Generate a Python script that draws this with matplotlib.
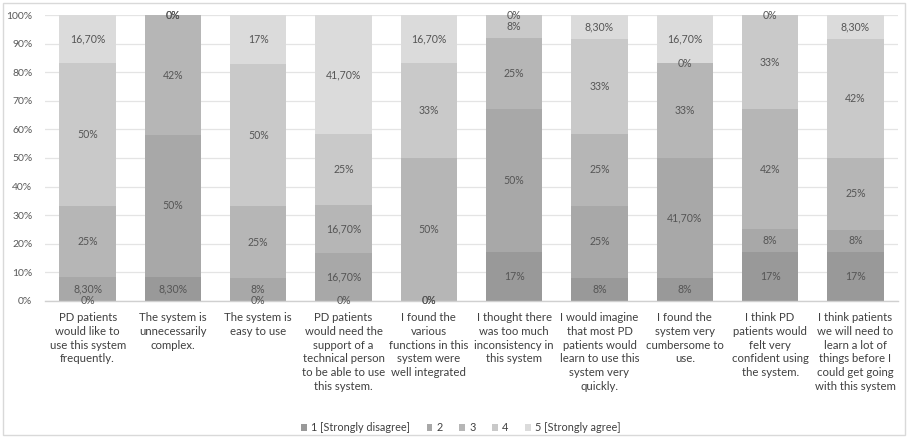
import numpy as np
import matplotlib
matplotlib.use('Agg')
from matplotlib import pyplot as plt
from matplotlib.patches import Rectangle

plt.rcParams['font.family'] = ['Lato', 'DejaVu Sans']

questions = [
    "PD patients\nwould like to\nuse this system\nfrequently.",
    "The system is\nunnecessarily\ncomplex.",
    "The system is\neasy to use",
    "PD patients\nwould need the\nsupport of a\ntechnical person\nto be able to use\nthis system.",
    "I found the\nvarious\nfunctions in this\nsystem were\nwell integrated",
    "I thought there\nwas too much\ninconsistency in\nthis system",
    "I would imagine\nthat most PD\npatients would\nlearn to use this\nsystem very\nquickly.",
    "I found the\nsystem very\ncumbersome to\nuse.",
    "I think PD\npatients would\nfelt very\nconfident using\nthe system.",
    "I think patients\nwe will need to\nlearn a lot of\nthings before I\ncould get going\nwith this system",
]

series_names = ["1 [Strongly disagree]", "2", "3", "4", "5 [Strongly agree]"]

# answers per question, in percent
s1 = [0, 8.3, 0, 0, 0, 17, 8, 8, 17, 17]
s2 = [8.3, 50, 8, 16.7, 0, 50, 25, 41.7, 8, 8]
s3 = [25, 42, 25, 16.7, 50, 25, 25, 33, 42, 25]
s4 = [50, 0, 50, 25, 33, 8, 33, 0, 33, 42]
s5 = [16.7, 0, 17, 41.7, 16.7, 0, 8.3, 16.7, 0, 8.3]

# printed labels (comma decimal)
lab1 = ["0%", "8,30%", "0%", "0%", "0%", "17%", "8%", "8%", "17%", "17%"]
lab2 = ["8,30%", "50%", "8%", "16,70%", "0%", "50%", "25%", "41,70%", "8%", "8%"]
lab3 = ["25%", "42%", "25%", "16,70%", "50%", "25%", "25%", "33%", "42%", "25%"]
lab4 = ["50%", "0%", "50%", "25%", "33%", "8%", "33%", "0%", "33%", "42%"]
lab5 = ["16,70%", "0%", "17%", "41,70%", "16,70%", "0%", "8,30%", "16,70%", "0%", "8,30%"]

colors = ['#999999', '#a8a8a8', '#b6b6b6', '#c9c9c9', '#dbdbdb']

data = np.array([s1, s2, s3, s4, s5], dtype=float)
labels = [lab1, lab2, lab3, lab4, lab5]
share = data / data.sum(axis=0) * 100  # 100% stacked

fig = plt.figure(figsize=(9.07, 4.37), dpi=100)
ax = fig.add_axes([0.0496, 0.312, 0.9405, 0.653])

x = np.arange(len(questions))
bottom = np.zeros(len(questions))
handles = []
for i in range(5):
    h = ax.bar(x, share[i], 0.66, bottom=bottom, color=colors[i],
               label=series_names[i], zorder=2)
    handles.append(h)
    for j in range(len(questions)):
        ax.text(x[j], bottom[j] + share[i][j] / 2, labels[i][j],
                ha='center', va='center', fontsize=7.6, color='#555555', zorder=3)
    bottom += share[i]

ax.set_xlim(-0.5, len(questions) - 0.5)
ax.set_ylim(0, 100)
ax.set_yticks(np.arange(0, 101, 10))
ax.set_yticklabels(["{0}%".format(v) for v in range(0, 101, 10)])
ax.yaxis.grid(True, color='#e4e4e4', linewidth=0.9, zorder=0)
ax.set_axisbelow(True)
for s in ['top', 'right', 'left']:
    ax.spines[s].set_visible(False)
ax.spines['bottom'].set_color('#d0d0d0')
ax.spines['bottom'].set_linewidth(1.0)
ax.tick_params(axis='y', length=0, labelsize=7.5, labelcolor='#595959', pad=9)
ax.tick_params(axis='x', length=0, labelsize=8.2, labelcolor='#404040', pad=8)
ax.set_xticks(x)
ax.set_xticklabels(questions, linespacing=1.32, va='top')

fig.legend(handles=handles, loc='center left', bbox_to_anchor=(301 / 907, 0.021), ncol=5,
           frameon=False, fontsize=7.8, handlelength=0.55, handleheight=0.55,
           handletextpad=0.35, columnspacing=1.55, labelcolor='#404040',
           borderpad=0, borderaxespad=0)

# light chart border
fig.patches.append(Rectangle((3 / 907, 2 / 437), 902 / 907, 432 / 437,
                             transform=fig.transFigure, fill=False,
                             edgecolor='#d9d9d9', linewidth=1.0))

plt.savefig('out.png', dpi=100)
